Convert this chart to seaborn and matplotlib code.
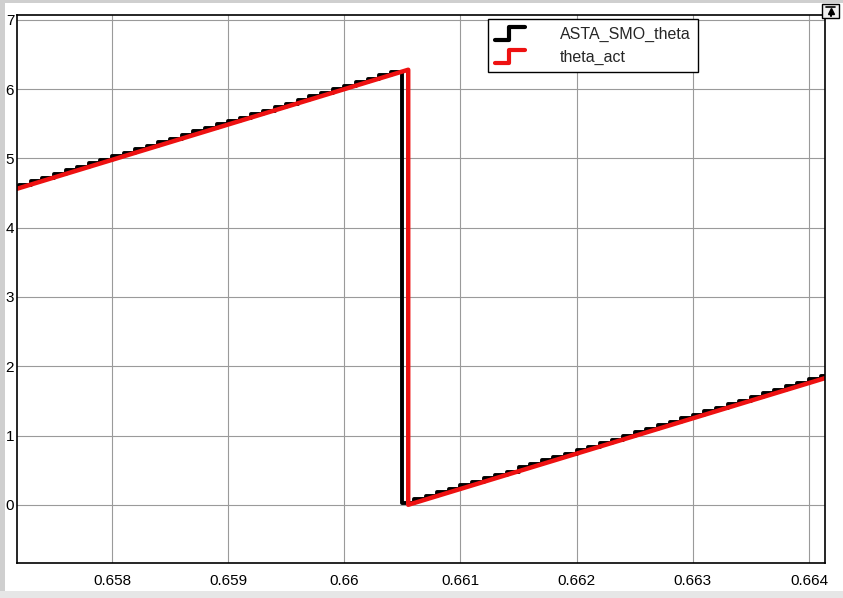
import numpy as np
import pandas as pd
import seaborn as sns
import matplotlib
matplotlib.use("Agg")
from matplotlib import pyplot as plt
from matplotlib.lines import Line2D
from matplotlib.legend_handler import HandlerLine2D
from matplotlib.patches import Rectangle

# sampled estimate (zero order hold, 1e-4 s)
smo_t = [0.6571, 0.6572, 0.6573, 0.6574, 0.6575, 0.6576, 0.6577, 0.6578, 0.6579,
         0.6580, 0.6581, 0.6582, 0.6583, 0.6584, 0.6585, 0.6586, 0.6587, 0.6588, 0.6589,
         0.6590, 0.6591, 0.6592, 0.6593, 0.6594, 0.6595, 0.6596, 0.6597, 0.6598, 0.6599,
         0.6600, 0.6601, 0.6602, 0.6603, 0.6604, 0.6605, 0.6606, 0.6607, 0.6608, 0.6609,
         0.6610, 0.6611, 0.6612, 0.6613, 0.6614, 0.6615, 0.6616, 0.6617, 0.6618, 0.6619,
         0.6620, 0.6621, 0.6622, 0.6623, 0.6624, 0.6625, 0.6626, 0.6627, 0.6628, 0.6629,
         0.6630, 0.6631, 0.6632, 0.6633, 0.6634, 0.6635, 0.6636, 0.6637, 0.6638, 0.6639,
         0.6640, 0.6641, 0.6642]
smo_theta = [4.52, 4.57, 4.62, 4.67, 4.72, 4.77, 4.83, 4.88, 4.93,
             4.98, 5.03, 5.08, 5.13, 5.18, 5.23, 5.28, 5.34, 5.39, 5.44,
             5.49, 5.54, 5.59, 5.64, 5.69, 5.74, 5.79, 5.85, 5.90, 5.95,
             6.00, 6.05, 6.10, 6.15, 6.20, 6.25, 0.03, 0.08, 0.13, 0.18,
             0.23, 0.28, 0.33, 0.38, 0.43, 0.48, 0.54, 0.59, 0.64, 0.69,
             0.74, 0.79, 0.84, 0.89, 0.94, 0.99, 1.05, 1.10, 1.15, 1.20,
             1.25, 1.30, 1.35, 1.40, 1.45, 1.50, 1.56, 1.61, 1.66, 1.71,
             1.76, 1.81, 1.86]

# actual rotor angle (continuous)
act_t = [0.6571, 0.66055, 0.66055, 0.6642]
act_theta = [4.52, 6.28, 0.0, 1.86]

x_ticks = [0.658, 0.659, 0.660, 0.661, 0.662, 0.663, 0.664]
x_labels = ["0.658", "0.659", "0.66", "0.661", "0.662", "0.663", "0.664"]
y_ticks = [0, 1, 2, 3, 4, 5, 6, 7]

df_smo = pd.DataFrame({"t": smo_t, "theta": smo_theta})
df_act = pd.DataFrame({"t": act_t, "theta": act_theta})


class StepHandler(HandlerLine2D):
    # legend icon drawn as a small step
    def create_artists(self, legend, orig_handle, xdescent, ydescent, width, height, fontsize, trans):
        x0, x1 = -xdescent, -xdescent + width
        xm = x0 + width * 0.45
        y0, y1 = -ydescent - height * 0.1, -ydescent + height * 1.05
        ln = Line2D([x0, xm, xm, x1], [y0, y0, y1, y1],
                    color=orig_handle.get_color(), linewidth=3)
        ln.set_transform(trans)
        return [ln]


sns.set_theme(style="white")
plt.rcParams['font.family'] = ['Liberation Sans', 'DejaVu Sans']

fig = plt.figure(figsize=(8.43, 5.98), dpi=100)
ax = fig.add_axes([17 / 843, 1 - 563 / 598, 808 / 843, 548 / 598])

sns.lineplot(data=df_smo, x="t", y="theta", ax=ax, color="black", linewidth=2.8,
             drawstyle="steps-pre", sort=False, estimator=None, label="ASTA_SMO_theta")
sns.lineplot(data=df_act, x="t", y="theta", ax=ax, color="#ee1111", linewidth=3.2,
             sort=False, estimator=None, label="theta_act")

ax.set_xlim(0.657182, 0.664138)
ax.set_ylim(-0.84, 7.07)
ax.set_xticks(x_ticks)
ax.set_xticklabels(x_labels)
ax.set_yticks(y_ticks)
ax.set_xlabel("")
ax.set_ylabel("")
ax.grid(True, color="#9a9a9a", linewidth=0.8)
ax.set_axisbelow(True)
ax.tick_params(axis="both", direction="in", length=4, width=1, colors="black",
               labelsize=11, pad=3)
ax.tick_params(axis="x", pad=8)
ax.tick_params(axis="y", pad=2)
for s in ax.spines.values():
    s.set_color("black")
    s.set_linewidth(1.2)

leg = ax.legend(handler_map={Line2D: StepHandler()}, loc="upper left",
                bbox_to_anchor=(0.583, 0.992), borderaxespad=0, fancybox=False,
                edgecolor="black", framealpha=1, fontsize=11.5, handlelength=1.85,
                handletextpad=2.2, labelspacing=0.5, borderpad=0.45)
leg.get_frame().set_linewidth(1.0)

# window chrome around the scope
fig.patches.append(Rectangle((0, 0), 5 / 843, 1, transform=fig.transFigure,
                             facecolor="#cfcfcf", edgecolor="none"))
fig.patches.append(Rectangle((0, 0), 1, 7 / 598, transform=fig.transFigure,
                             facecolor="#e6e6e6", edgecolor="none"))
fig.patches.append(Rectangle((0, 1 - 3 / 598), 1, 3 / 598, transform=fig.transFigure,
                             facecolor="#cfcfcf", edgecolor="none"))
fig.patches.append(Rectangle((822 / 843, 1 - 18 / 598), 17 / 843, 14 / 598,
                             transform=fig.transFigure, facecolor="#f0f0f0",
                             edgecolor="black", linewidth=1))
# small "restore" icon: bar with an up arrow
fig.add_artist(Line2D([826 / 843, 835 / 843], [1 - 7 / 598, 1 - 7 / 598],
                      transform=fig.transFigure, color="black", linewidth=1.2))
fig.add_artist(Line2D([830.5 / 843], [1 - 11 / 598], transform=fig.transFigure,
                      marker="^", markersize=5, color="black", linestyle="none"))
fig.add_artist(Line2D([830.5 / 843, 830.5 / 843], [1 - 11 / 598, 1 - 16 / 598],
                      transform=fig.transFigure, color="black", linewidth=1.5))

fig.savefig("out.png", dpi=100, facecolor="white")
